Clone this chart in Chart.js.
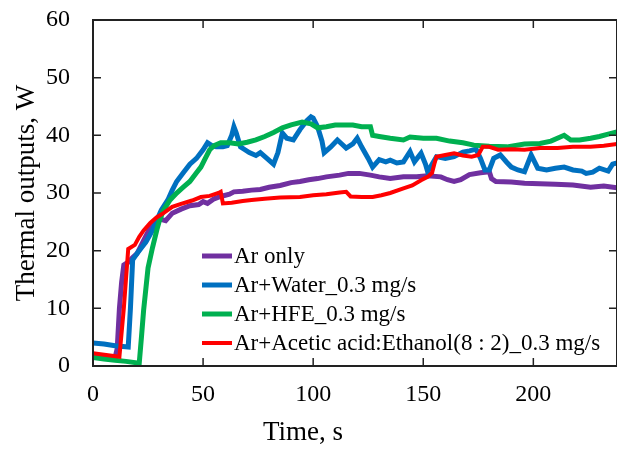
<!DOCTYPE html>
<html>
<head>
<meta charset="utf-8">
<script src="https://cdn.jsdelivr.net/npm/chart.js@4.4.1/dist/chart.umd.min.js"></script>
<style>
  html, body { margin: 0; padding: 0; background: #fff; }
  #wrap { width: 617px; height: 449px; }
</style>
</head>
<body>
<div id="wrap"><canvas id="thermalChart"></canvas></div>
<script>
// Thermal outputs vs time

const seriesNames = [
  'Ar only',
  'Ar+Water_0.3 mg/s',
  'Ar+HFE_0.3 mg/s',
  'Ar+Acetic acid:Ethanol(8 : 2)_0.3 mg/s'
];

// Ar only
const arTime = [0, 5, 10, 11, 12, 13, 14, 16, 18, 20, 22, 24, 26, 28, 30, 33, 36, 40, 44, 48, 50, 52, 55, 58, 62, 64, 68, 72, 76, 80, 85, 90, 94, 98, 102, 106, 112, 116, 121, 126, 130, 135, 141, 147, 152, 158, 161, 164, 167, 171, 176, 180, 181, 183, 190, 196, 203, 210, 218, 226, 232, 238];
const arPower = [1.8, 1.6, 1.4, 3, 10, 14.5, 17.5, 18, 18.8, 19.5, 21, 22.5, 24, 25, 25.5, 25.2, 26.5, 27.2, 27.8, 28, 28.5, 28.2, 29, 29.4, 29.8, 30.2, 30.3, 30.5, 30.6, 31, 31.3, 31.8, 32, 32.3, 32.5, 32.8, 33.1, 33.4, 33.4, 33.1, 32.8, 32.5, 32.8, 32.8, 33, 32.8, 32.3, 32, 32.3, 33.2, 33.5, 33.7, 32.5, 32, 31.9, 31.7, 31.6, 31.5, 31.4, 31, 31.2, 30.9];

// Ar + Water
const waterTime = [0, 5, 10, 16, 17, 18, 20, 22, 24, 27, 29, 31, 34, 36, 38, 41, 44, 47, 50, 52, 54, 56, 59, 61, 63, 64, 65, 67, 69, 71, 74, 76, 79, 82, 84, 86, 88, 91, 94, 97, 99, 100, 102, 104, 105, 108, 111, 113, 115, 118, 120, 122, 125, 127, 130, 133, 135, 138, 141, 144, 146, 149, 151, 152, 154, 156, 160, 164, 168, 171, 174, 176, 178, 180, 182, 185, 188, 190, 193, 196, 199, 202, 206, 210, 214, 218, 222, 224, 227, 230, 234, 236, 238];
const waterPower = [4, 3.8, 3.5, 3.3, 10, 18.4, 19.5, 20.5, 21.5, 23.5, 25.3, 27, 28.8, 30.5, 32, 33.5, 35, 36, 37.5, 38.7, 38.2, 38, 38, 38.2, 40, 41.5, 40.5, 38, 37.5, 37, 36.5, 37, 36, 35, 37, 40.4, 39.5, 39.2, 41, 42.5, 43.2, 43, 41.5, 39, 37, 38, 39.2, 38.5, 37.8, 38.5, 39.5, 38, 36, 34.5, 35.8, 35.4, 35.7, 35.2, 35.4, 37.2, 35.4, 36.9, 35, 33.7, 35, 36.3, 36, 36.3, 37.1, 37.3, 37.6, 36, 34, 34, 36, 36.6, 35.3, 34.5, 34, 33.7, 36.6, 34.3, 34, 34.3, 34.5, 34, 33.8, 33.4, 33.6, 34.3, 33.8, 35, 35.2];

// Ar + HFE
const hfeTime = [0, 5, 10, 15, 21, 22, 23, 25, 27, 29, 30, 32, 35, 38, 41, 44, 47, 49, 51, 53, 55, 58, 62, 66, 70, 74, 78, 82, 86, 90, 95, 99, 102, 106, 110, 114, 118, 122, 126, 127, 130, 135, 141, 144, 150, 156, 162, 168, 173, 180, 188, 196, 203, 208, 214, 217, 221, 226, 230, 234, 238];
const hfePower = [1.5, 1.2, 1, 0.8, 0.5, 5, 9.7, 17, 20.5, 23.6, 25, 27, 28.8, 30, 31, 32, 33.5, 34.5, 36, 37.5, 38.2, 38.7, 38.7, 38.5, 38.8, 39.2, 39.8, 40.5, 41.3, 41.8, 42.3, 42, 41.3, 41.5, 41.8, 41.8, 41.8, 41.5, 41.5, 40, 39.8, 39.5, 39.2, 39.7, 39.5, 39.5, 39, 38.7, 38.3, 38.1, 38, 38.5, 38.6, 39, 40, 39.2, 39.2, 39.5, 39.8, 40.2, 40.6];

// Ar + Acetic acid:Ethanol (8:2)
const aceticTime = [0, 6, 12, 14, 16, 19, 21, 23, 26, 29, 32, 36, 40, 45, 49, 53, 57, 58, 59, 63, 68, 72, 78, 85, 94, 100, 106, 112, 115, 117, 122, 127, 131, 135, 141, 145, 149, 152, 154, 155, 156, 160, 164, 168, 172, 175, 177, 180, 184, 190, 196, 203, 211, 218, 226, 232, 238];
const aceticPower = [2.2, 1.9, 1.6, 10, 20.3, 21, 22.4, 23.5, 24.8, 25.8, 26.5, 27.6, 28.1, 28.7, 29.3, 29.5, 30, 30.2, 28.2, 28.3, 28.6, 28.8, 29, 29.2, 29.3, 29.6, 29.8, 30.1, 30.2, 29.4, 29.3, 29.3, 29.6, 30, 30.8, 31.3, 32.2, 32.8, 33.5, 35, 36.3, 36.6, 36.9, 36.5, 36.3, 36.6, 38, 38, 37.5, 37.6, 37.5, 37.8, 37.8, 38, 38, 38.2, 38.5];

const seriesColors = ['#7030A0', '#0070C0', '#00B050', '#FF0000'];
const lineWidths = [5, 5, 5, 4];

const xTicksMax = 238;
const yTicksMax = 60;

const serif = "'Liberation Serif', 'Times New Roman', serif";

function toPoints(times, values) {
  return times.map((t, i) => ({ x: t, y: values[i] }));
}

const allTimes = [arTime, waterTime, hfeTime, aceticTime];
const allPowers = [arPower, waterPower, hfePower, aceticPower];

const datasets = seriesNames.map((name, i) => ({
  label: name,
  data: toPoints(allTimes[i], allPowers[i]),
  borderColor: seriesColors[i],
  backgroundColor: seriesColors[i],
  borderWidth: lineWidths[i],
  pointRadius: 0,
  tension: 0,
  fill: false,
  order: 4 - i, // later series on top, like the original
}));

// frame, inward ticks, axis titles and the legend box inside the plot
const decorations = {
  id: 'decorations',
  afterDraw(chart) {
    const ctx = chart.ctx;
    const a = chart.chartArea;
    const xs = chart.scales.x;
    const ys = chart.scales.y;
    ctx.save();

    ctx.strokeStyle = '#222';
    ctx.lineWidth = 2;
    ctx.strokeRect(a.left, a.top, a.right - a.left, a.bottom - a.top);

    ctx.lineWidth = 1.5;
    const len = 8;
    xs.ticks.filter(t => t.value % 50 === 0).forEach(t => {
      const px = xs.getPixelForValue(t.value);
      ctx.beginPath();
      ctx.moveTo(px, a.bottom); ctx.lineTo(px, a.bottom - len);
      ctx.moveTo(px, a.top); ctx.lineTo(px, a.top + len);
      ctx.stroke();
    });
    ys.ticks.forEach(t => {
      const py = ys.getPixelForValue(t.value);
      ctx.beginPath();
      ctx.moveTo(a.left, py); ctx.lineTo(a.left + len, py);
      ctx.moveTo(a.right, py); ctx.lineTo(a.right - len, py);
      ctx.stroke();
    });

    // axis titles
    ctx.fillStyle = '#000';
    ctx.font = '27px ' + serif;
    ctx.textAlign = 'center';
    ctx.textBaseline = 'alphabetic';
    ctx.fillText('Time, s', 303, 440);

    ctx.save();
    ctx.translate(34, 193);
    ctx.rotate(-Math.PI / 2);
    ctx.fillText('Thermal outputs, W', 0, 0);
    ctx.restore();

    // legend
    const rows = [256, 285, 314, 343];
    ctx.font = '23px ' + serif;
    ctx.textAlign = 'left';
    ctx.textBaseline = 'middle';
    chart.data.datasets.forEach((ds, i) => {
      ctx.strokeStyle = ds.borderColor;
      ctx.lineWidth = ds.borderWidth;
      ctx.beginPath();
      ctx.moveTo(202, rows[i]);
      ctx.lineTo(232, rows[i]);
      ctx.stroke();
      ctx.fillStyle = '#000';
      ctx.fillText(ds.label, 234, rows[i] + 1);
    });

    ctx.restore();
  }
};

new Chart(document.getElementById('thermalChart'), {
  type: 'line',
  data: { datasets: datasets },
  options: {
    responsive: true,
    maintainAspectRatio: false,
    animation: false,
    layout: { padding: { top: 20, right: 0, left: 0, bottom: 0 } },
    plugins: {
      legend: { display: false },
      tooltip: { enabled: false },
    },
    scales: {
      x: {
        type: 'linear',
        min: 0,
        max: xTicksMax,
        grid: { drawOnChartArea: false, drawTicks: false },
        border: { display: false },
        ticks: {
          stepSize: 50,
          padding: 14,
          color: '#000',
          font: { family: serif, size: 24 },
          callback: v => (v % 50 === 0 ? v : ''),
        },
        afterFit(scale) {
          scale.height = 83;
          scale.paddingLeft = 0;
          scale.paddingRight = 0;
        },
      },
      y: {
        min: 0,
        max: yTicksMax,
        grid: { drawOnChartArea: false, drawTicks: false },
        border: { display: false },
        ticks: {
          stepSize: 10,
          padding: 23,
          color: '#000',
          font: { family: serif, size: 24 },
        },
        afterFit(scale) {
          scale.width = 93;
          scale.paddingTop = 0;
          scale.paddingBottom = 0;
        },
      },
    },
  },
  plugins: [decorations],
});
</script>
</body>
</html>
